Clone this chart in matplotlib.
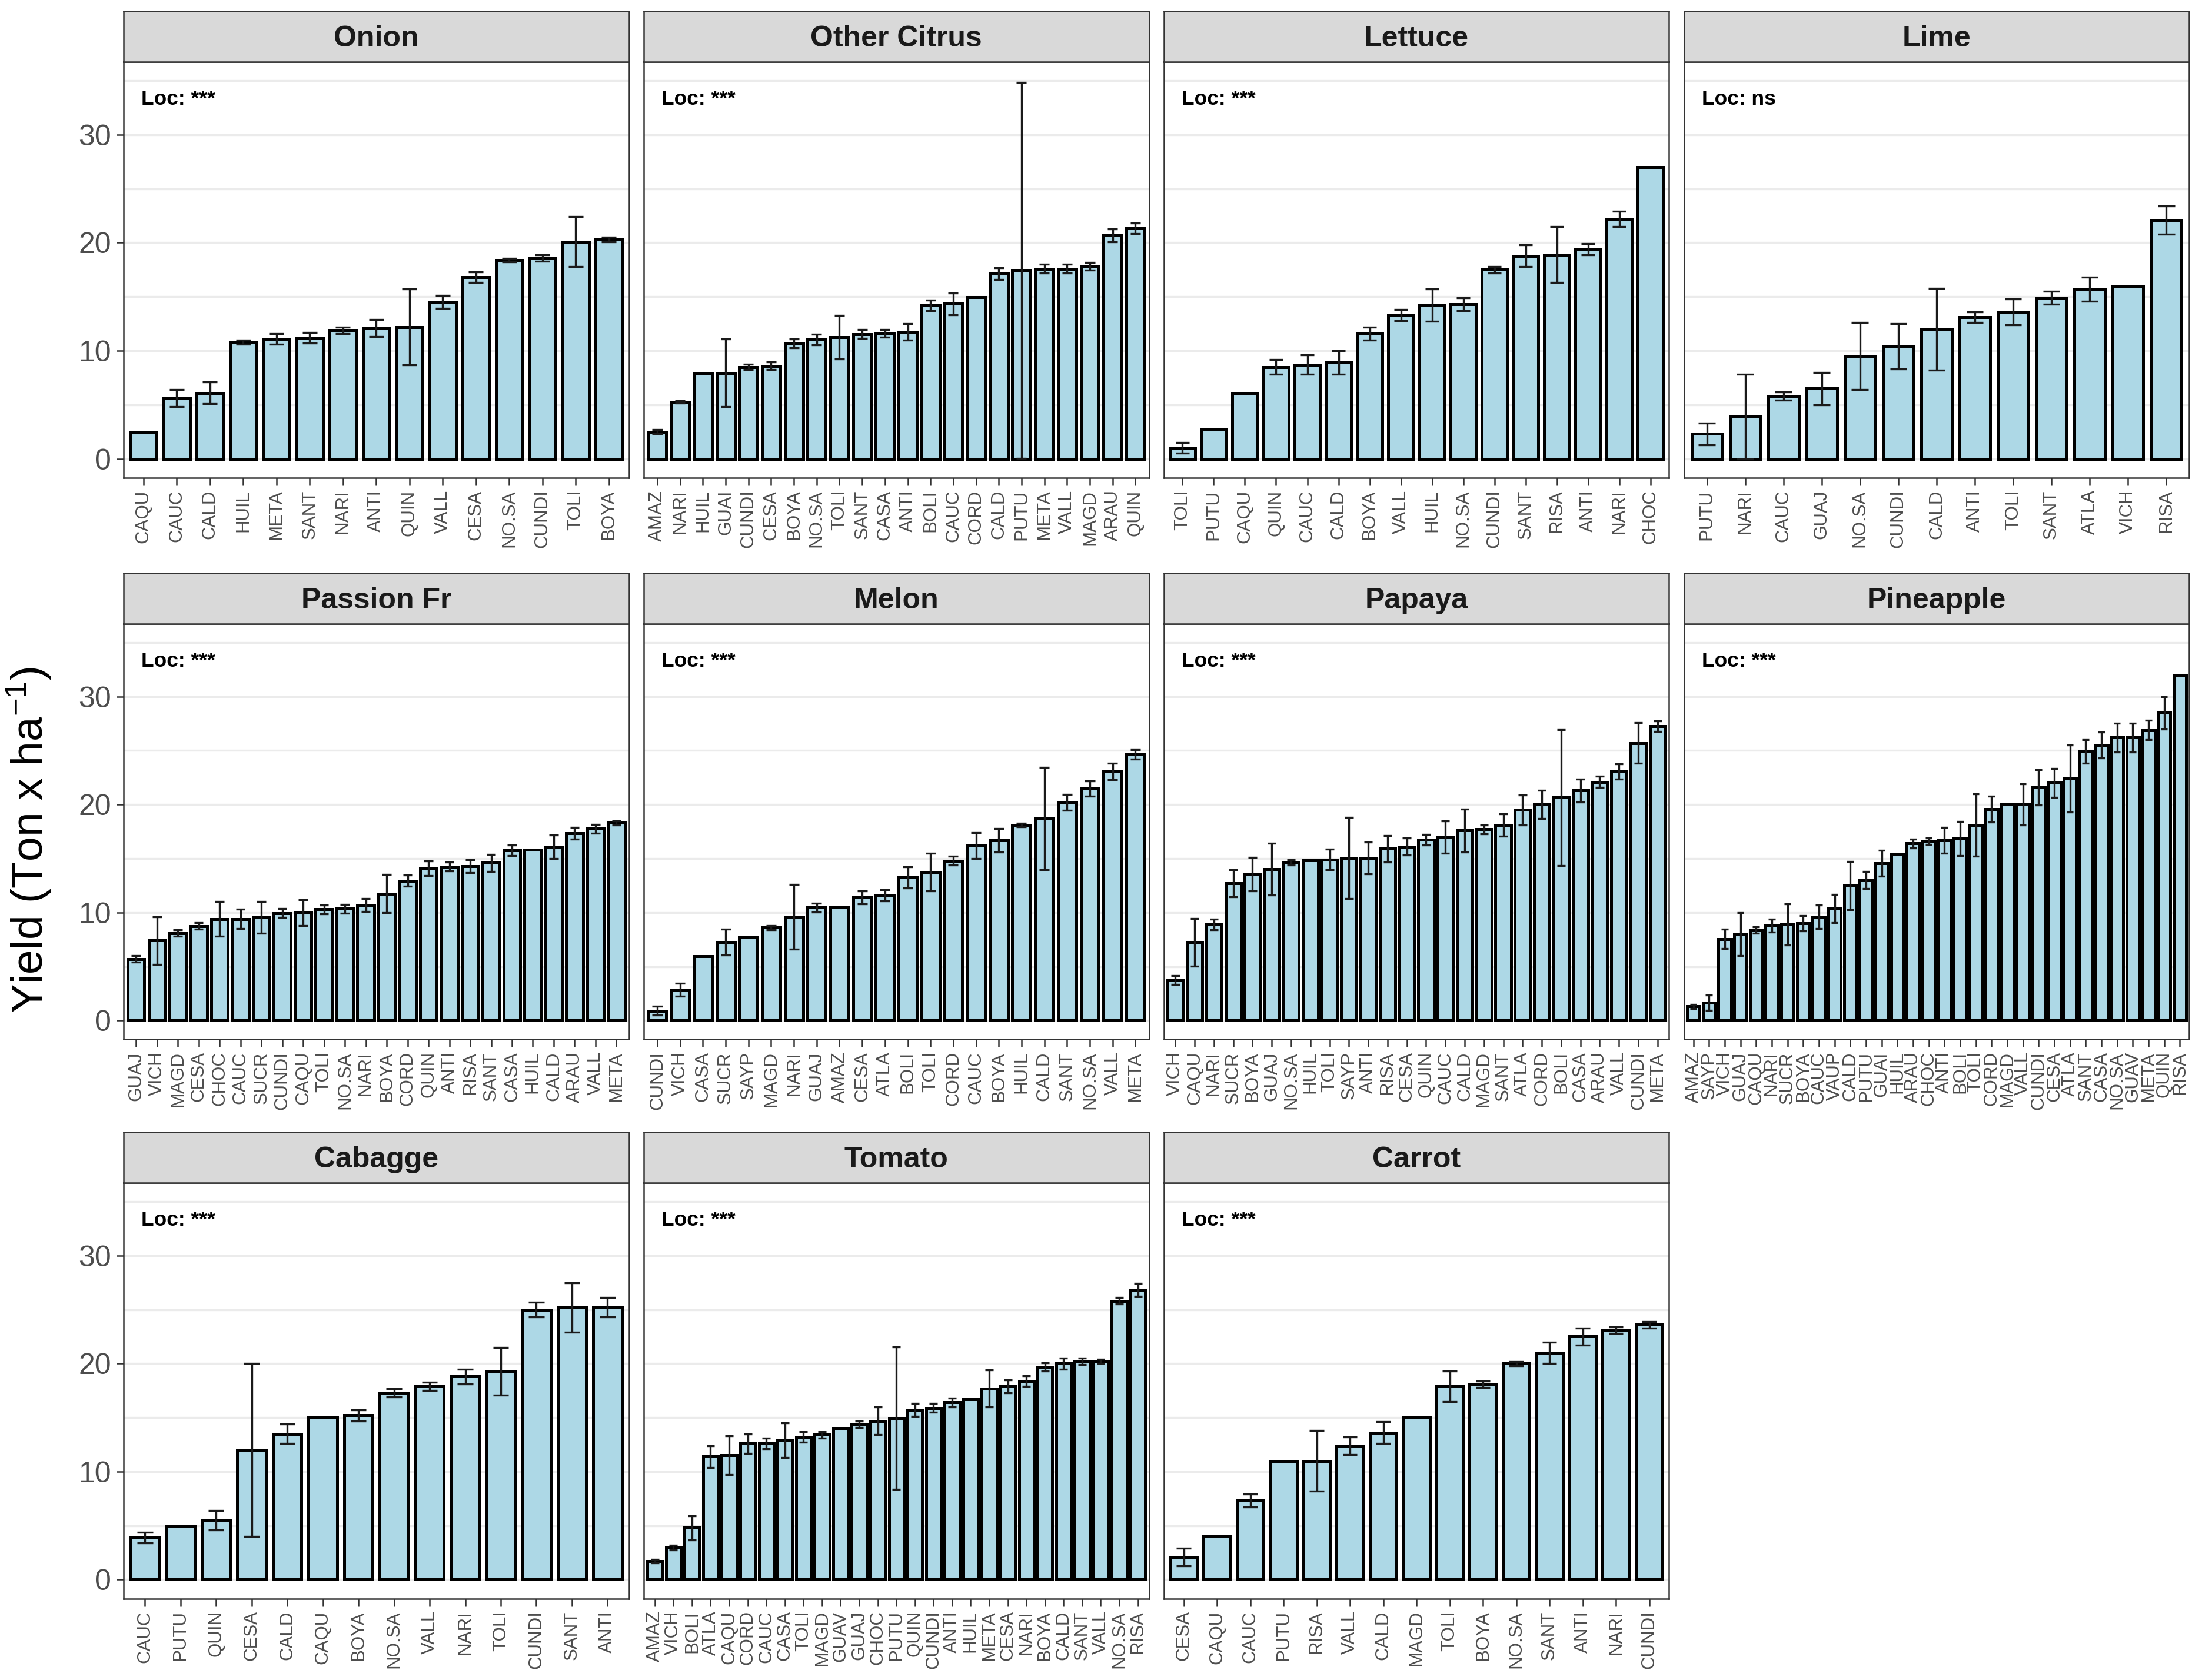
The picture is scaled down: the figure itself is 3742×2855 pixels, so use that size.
import numpy as np
import matplotlib
matplotlib.use('Agg')
import matplotlib.pyplot as plt

plt.rcParams['font.family'] = ['Liberation Sans', 'DejaVu Sans']
plt.rcParams['mathtext.fontset'] = 'custom'
plt.rcParams['mathtext.rm'] = 'Liberation Sans'
plt.rcParams['mathtext.it'] = 'Liberation Sans:italic'

# ---- data (mean yield and error per location, sorted as in the figure) ----
onion_loc = ['CAQU', 'CAUC', 'CALD', 'HUIL', 'META', 'SANT', 'NARI', 'ANTI', 'QUIN', 'VALL',
             'CESA', 'NO.SA', 'CUNDI', 'TOLI', 'BOYA']
onion_mean = [2.5, 5.6, 6.1, 10.8, 11.1, 11.2, 11.9, 12.1, 12.2, 14.5, 16.8, 18.4, 18.6, 20.1, 20.3]
onion_err = [0, 0.8, 1.0, 0.2, 0.5, 0.5, 0.3, 0.8, 3.5, 0.6, 0.5, 0.15, 0.3, 2.3, 0.2]

citrus_loc = ['AMAZ', 'NARI', 'HUIL', 'GUAI', 'CUNDI', 'CESA', 'BOYA', 'NO.SA', 'TOLI', 'SANT',
              'CASA', 'ANTI', 'BOLI', 'CAUC', 'CORD', 'CALD', 'PUTU', 'META', 'VALL', 'MAGD',
              'ARAU', 'QUIN']
citrus_mean = [2.5, 5.25, 7.95, 7.95, 8.5, 8.6, 10.7, 11.05, 11.25, 11.55, 11.6, 11.75, 14.2,
               14.35, 14.95, 17.15, 17.45, 17.6, 17.6, 17.8, 20.7, 21.35]
citrus_err = [0.2, 0.1, 0, 3.15, 0.25, 0.35, 0.4, 0.5, 2.0, 0.4, 0.35, 0.75, 0.5, 1.0, 0,
              0.55, 17.4, 0.4, 0.4, 0.35, 0.6, 0.5]

lettuce_loc = ['TOLI', 'PUTU', 'CAQU', 'QUIN', 'CAUC', 'CALD', 'BOYA', 'VALL', 'HUIL', 'NO.SA',
               'CUNDI', 'SANT', 'RISA', 'ANTI', 'NARI', 'CHOC']
lettuce_mean = [1.0, 2.7, 6.0, 8.5, 8.7, 8.9, 11.6, 13.3, 14.2, 14.3, 17.5, 18.8, 18.9, 19.4,
                22.2, 27.0]
lettuce_err = [0.5, 0, 0, 0.7, 0.9, 1.1, 0.6, 0.5, 1.5, 0.6, 0.3, 1.0, 2.6, 0.5, 0.7, 0]

lime_loc = ['PUTU', 'NARI', 'CAUC', 'GUAJ', 'NO.SA', 'CUNDI', 'CALD', 'ANTI', 'TOLI', 'SANT',
            'ATLA', 'VICH', 'RISA']
lime_mean = [2.3, 3.9, 5.8, 6.5, 9.5, 10.4, 12.0, 13.1, 13.6, 14.9, 15.7, 16.0, 22.1]
lime_err = [1.0, 3.9, 0.4, 1.5, 3.1, 2.1, 3.8, 0.5, 1.2, 0.6, 1.1, 0, 1.3]

passion_loc = ['GUAJ', 'VICH', 'MAGD', 'CESA', 'CHOC', 'CAUC', 'SUCR', 'CUNDI', 'CAQU', 'TOLI',
               'NO.SA', 'NARI', 'BOYA', 'CORD', 'QUIN', 'ANTI', 'RISA', 'SANT', 'CASA', 'HUIL',
               'CALD', 'ARAU', 'VALL', 'META']
passion_mean = [5.7, 7.4, 8.1, 8.75, 9.4, 9.4, 9.55, 9.95, 10.0, 10.3, 10.35, 10.7, 11.75,
                12.95, 14.1, 14.25, 14.3, 14.6, 15.75, 15.8, 16.1, 17.35, 17.75, 18.3]
passion_err = [0.3, 2.2, 0.3, 0.3, 1.6, 0.9, 1.45, 0.4, 1.2, 0.4, 0.4, 0.6, 1.75, 0.5, 0.7,
               0.4, 0.6, 0.8, 0.5, 0, 1.1, 0.55, 0.4, 0.2]

melon_loc = ['CUNDI', 'VICH', 'CASA', 'SUCR', 'SAYP', 'MAGD', 'NARI', 'GUAJ', 'AMAZ', 'CESA',
             'ATLA', 'BOLI', 'TOLI', 'CORD', 'CAUC', 'BOYA', 'HUIL', 'CALD', 'SANT', 'NO.SA',
             'VALL', 'META']
melon_mean = [0.9, 2.85, 5.95, 7.25, 7.75, 8.6, 9.6, 10.45, 10.5, 11.4, 11.6, 13.25, 13.75,
              14.8, 16.2, 16.7, 18.1, 18.7, 20.2, 21.5, 23.05, 24.65]
melon_err = [0.4, 0.6, 0, 1.2, 0, 0.2, 3.0, 0.4, 0, 0.6, 0.5, 1.0, 1.75, 0.4, 1.2, 1.1, 0.15,
             4.75, 0.75, 0.7, 0.75, 0.45]

papaya_loc = ['VICH', 'CAQU', 'NARI', 'SUCR', 'BOYA', 'GUAJ', 'NO.SA', 'HUIL', 'TOLI', 'SAYP',
              'ANTI', 'RISA', 'CESA', 'QUIN', 'CAUC', 'CALD', 'MAGD', 'SANT', 'ATLA', 'CORD',
              'BOLI', 'CASA', 'ARAU', 'VALL', 'CUNDI', 'META']
papaya_mean = [3.75, 7.25, 8.9, 12.7, 13.55, 14.0, 14.65, 14.85, 14.9, 15.05, 15.05, 15.9, 16.1,
               16.75, 17.0, 17.6, 17.7, 18.1, 19.5, 20.0, 20.65, 21.3, 22.1, 23.05, 25.7, 27.25]
papaya_err = [0.4, 2.2, 0.5, 1.25, 1.55, 2.4, 0.25, 0, 0.95, 3.75, 1.45, 1.25, 0.8, 0.5, 1.5,
              2.0, 0.4, 1.05, 1.4, 1.3, 6.3, 1.05, 0.5, 0.7, 1.9, 0.5]

pineapple_loc = ['AMAZ', 'SAYP', 'VICH', 'GUAJ', 'CAQU', 'NARI', 'SUCR', 'BOYA', 'CAUC', 'VAUP',
                 'CALD', 'PUTU', 'GUAI', 'HUIL', 'ARAU', 'CHOC', 'ANTI', 'BOLI', 'TOLI', 'CORD',
                 'MAGD', 'VALL', 'CUNDI', 'CESA', 'ATLA', 'SANT', 'CASA', 'NO.SA', 'GUAV',
                 'META', 'QUIN', 'RISA']
pineapple_mean = [1.3, 1.65, 7.55, 8.0, 8.4, 8.8, 8.9, 9.0, 9.6, 10.35, 12.5, 13.0, 14.55, 15.4,
                  16.4, 16.6, 16.7, 16.85, 18.1, 19.6, 20.0, 20.0, 21.6, 22.0, 22.4, 24.9, 25.5,
                  26.2, 26.2, 26.9, 28.5, 32.0]
pineapple_err = [0.2, 0.7, 0.9, 2.0, 0.3, 0.6, 1.9, 0.7, 1.1, 1.3, 2.25, 0.8, 1.2, 0, 0.4, 0.3,
                 1.2, 1.6, 2.9, 1.2, 0, 1.9, 1.65, 1.35, 3.1, 1.1, 1.2, 1.35, 1.35, 0.9, 1.5, 0]

cabbage_loc = ['CAUC', 'PUTU', 'QUIN', 'CESA', 'CALD', 'CAQU', 'BOYA', 'NO.SA', 'VALL', 'NARI',
               'TOLI', 'CUNDI', 'SANT', 'ANTI']
cabbage_mean = [3.9, 5.0, 5.5, 12.0, 13.5, 15.0, 15.2, 17.3, 17.9, 18.8, 19.3, 25.0, 25.2, 25.2]
cabbage_err = [0.5, 0, 0.9, 8.0, 0.9, 0, 0.5, 0.4, 0.4, 0.7, 2.2, 0.7, 2.3, 0.9]

tomato_loc = ['AMAZ', 'VICH', 'BOLI', 'ATLA', 'CAQU', 'CORD', 'CAUC', 'CASA', 'TOLI', 'MAGD',
              'GUAV', 'GUAJ', 'CHOC', 'PUTU', 'QUIN', 'CUNDI', 'ANTI', 'HUIL', 'META', 'CESA',
              'NARI', 'BOYA', 'CALD', 'SANT', 'VALL', 'NO.SA', 'RISA']
tomato_mean = [1.7, 2.96, 4.8, 11.4, 11.5, 12.6, 12.6, 12.9, 13.2, 13.4, 14.0, 14.4, 14.7,
               14.95, 15.7, 15.9, 16.4, 16.7, 17.7, 17.9, 18.4, 19.7, 20.0, 20.2, 20.2, 25.8,
               26.85]
tomato_err = [0.15, 0.2, 1.1, 1.0, 1.8, 0.9, 0.5, 1.6, 0.5, 0.3, 0, 0.3, 1.3, 6.6, 0.6, 0.4,
              0.4, 0, 1.7, 0.6, 0.5, 0.4, 0.5, 0.3, 0.2, 0.3, 0.6]

carrot_loc = ['CESA', 'CAQU', 'CAUC', 'PUTU', 'RISA', 'VALL', 'CALD', 'MAGD', 'TOLI', 'BOYA',
              'NO.SA', 'SANT', 'ANTI', 'NARI', 'CUNDI']
carrot_mean = [2.1, 4.0, 7.3, 11.0, 11.0, 12.4, 13.6, 15.0, 17.9, 18.1, 20.0, 21.0, 22.5, 23.1,
               23.6]
carrot_err = [0.8, 0, 0.6, 0, 2.8, 0.8, 1.0, 0, 1.4, 0.3, 0.2, 1.0, 0.8, 0.3, 0.3]

crops = ['Onion', 'Other Citrus', 'Lettuce', 'Lime', 'Passion Fr', 'Melon', 'Papaya',
         'Pineapple', 'Cabagge', 'Tomato', 'Carrot']
loc_sig = ['***', '***', '***', 'ns', '***', '***', '***', '***', '***', '***', '***']

panels = [
    (onion_loc, onion_mean, onion_err),
    (citrus_loc, citrus_mean, citrus_err),
    (lettuce_loc, lettuce_mean, lettuce_err),
    (lime_loc, lime_mean, lime_err),
    (passion_loc, passion_mean, passion_err),
    (melon_loc, melon_mean, melon_err),
    (papaya_loc, papaya_mean, papaya_err),
    (pineapple_loc, pineapple_mean, pineapple_err),
    (cabbage_loc, cabbage_mean, cabbage_err),
    (tomato_loc, tomato_mean, tomato_err),
    (carrot_loc, carrot_mean, carrot_err),
]

# ---- layout (figure fractions) ----
fig = plt.figure(figsize=(3742 / 300, 2855 / 300), dpi=300)
left0, col_step, pw = 0.0561, 0.2362, 0.2295
bottoms = [0.7157, 0.3813, 0.0485]
ph, sh = 0.2475, 0.0301

for i, (crop, (locs, mean, err)) in enumerate(zip(crops, panels)):
    r, c = divmod(i, 4)
    x0 = left0 + c * col_step
    y0 = bottoms[r]
    ax = fig.add_axes([x0, y0, pw, ph])
    sax = fig.add_axes([x0, y0 + ph, pw, sh])

    x = np.arange(len(locs))
    m = np.array(mean)
    e = np.array(err)
    ax.bar(x, m, width=0.8, color='#ADD8E6', edgecolor='black', linewidth=1.2, zorder=2)
    has = e > 0
    ax.vlines(x[has], (m - e)[has], (m + e)[has], color='#1a1a1a', lw=0.8, zorder=3)
    ax.hlines((m + e)[has], x[has] - 0.22, x[has] + 0.22, color='#1a1a1a', lw=0.8, zorder=3)
    ax.hlines((m - e)[has], x[has] - 0.22, x[has] + 0.22, color='#1a1a1a', lw=0.8, zorder=3)

    ax.set_xlim(-0.6, len(locs) - 0.4)
    ax.set_ylim(-1.75, 36.75)
    ax.set_xticks(x)
    ax.set_xticklabels(locs, rotation=90, fontsize=7.5, color='#4D4D4D')
    ax.set_yticks([0, 10, 20, 30])
    ax.set_yticks([5, 15, 25, 35], minor=True)
    ax.grid(True, axis='y', which='both', color='#EBEBEB', lw=0.8, zorder=0)
    ax.set_axisbelow(True)
    ax.tick_params(axis='x', length=3, width=0.6, color='#333333', pad=2)
    ax.tick_params(axis='y', which='minor', left=False)
    if c == 0:
        ax.tick_params(axis='y', which='major', length=3, width=0.6, color='#333333',
                       labelsize=12, labelcolor='#4D4D4D', pad=2)
    else:
        ax.tick_params(axis='y', which='major', left=False, labelleft=False)
    for sp in ax.spines.values():
        sp.set_color('#333333')
        sp.set_linewidth(0.6)

    ax.text(0.035, 0.91, 'Loc: ' + loc_sig[i], transform=ax.transAxes, ha='left',
            va='center', fontsize=8.5, fontweight='bold')

    sax.set_facecolor('#D9D9D9')
    sax.set_xticks([])
    sax.set_yticks([])
    for sp in sax.spines.values():
        sp.set_color('#333333')
        sp.set_linewidth(0.6)
    sax.text(0.5, 0.45, crop, transform=sax.transAxes, ha='center', va='center',
             fontsize=12, fontweight='bold', color='#1A1A1A')

fig.text(0.013, 0.5, 'Yield (Ton x ha$^{-1}$)', rotation=90, ha='center', va='center',
         fontsize=18)

fig.savefig('out.png', dpi=300)
